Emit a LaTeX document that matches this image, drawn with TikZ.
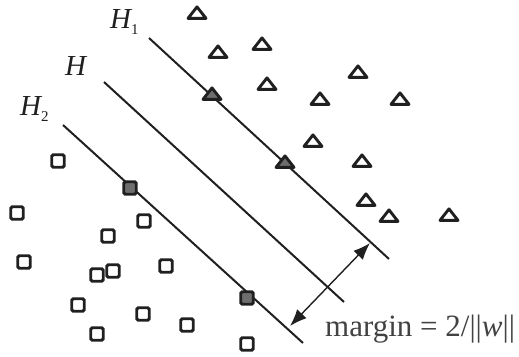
\documentclass[tikz,border=0pt]{standalone}
\usepackage{fontspec}
\setmainfont{Liberation Serif}
\usetikzlibrary{shapes.geometric,arrows.meta}
\definecolor{ink}{HTML}{202020}
\definecolor{mark}{HTML}{6E6E6E}
\begin{document}
\begin{tikzpicture}[x=1pt,y=-1pt,
  tri/.style={draw=ink, line width=2.9pt, fill=white, isosceles triangle, shape border rotate=90,
    isosceles triangle stretches, minimum width=18pt, minimum height=11.5pt, inner sep=0pt, line join=round},
  trisv/.style={tri, fill=mark},
  sq/.style={draw=ink, line width=2.9pt, fill=white, rectangle, minimum size=12.5pt, inner sep=0pt, rounded corners=1.5pt},
  sqsv/.style={sq, fill=mark},
  hyp/.style={draw=ink, line width=2pt},
  lab/.style={font=\fontsize{29}{29}\selectfont\itshape, text=ink, inner sep=0pt, anchor=base west},
  marr/.style={draw=ink, line width=1.4pt, {Latex[length=17pt,width=13pt]}-{Latex[length=17pt,width=13pt]}}
]
\useasboundingbox (0,0) rectangle (519,356);
% hyperplanes
\coordinate (h1a) at (149,38);  \coordinate (h1b) at (389,259);
\coordinate (ha)  at (104,82);  \coordinate (hb)  at (344,302);
\coordinate (h2a) at (63,125);  \coordinate (h2b) at (303,343);
\draw[hyp] (h1a) -- (h1b);
\draw[hyp] (ha) -- (hb);
\draw[hyp] (h2a) -- (h2b);
% labels
\node[lab] (lH1) at (110,28) {H\raisebox{-6pt}{\fontsize{15}{15}\selectfont\upshape 1}};
\node[lab] (lH)  at (65,75) {H};
\node[lab] (lH2) at (20,115) {H\raisebox{-6pt}{\fontsize{15}{15}\selectfont\upshape 2}};
% triangles
\node[tri] (t1) at (197,14) {};
\node[tri] (t2) at (218,53) {};
\node[tri] (t3) at (262,45) {};
\node[trisv] (t4) at (212,95) {};
\node[tri] (t5) at (267,85) {};
\node[tri] (t6) at (320,100) {};
\node[tri] (t7) at (358,73) {};
\node[tri] (t8) at (400,100) {};
\node[tri] (t9) at (313,142) {};
\node[trisv] (t10) at (285,163) {};
\node[tri] (t11) at (362,162) {};
\node[tri] (t12) at (366,201) {};
\node[tri] (t13) at (389,217) {};
\node[tri] (t14) at (449,216) {};
% squares
\node[sq] (s1) at (58,161) {};
\node[sqsv] (s2) at (130,188) {};
\node[sq] (s3) at (17,213) {};
\node[sq] (s4) at (144,221) {};
\node[sq] (s5) at (108,236) {};
\node[sq] (s6) at (24,262) {};
\node[sq] (s7) at (97,275) {};
\node[sq] (s8) at (113,271) {};
\node[sq] (s9) at (166,266) {};
\node[sqsv] (s10) at (247,298) {};
\node[sq] (s11) at (78,305) {};
\node[sq] (s12) at (143,314) {};
\node[sq] (s13) at (187,325) {};
\node[sq] (s14) at (97,334) {};
\node[sq] (s15) at (247,344) {};
% margin arrow
\coordinate (m1) at (290,326);
\coordinate (m2) at (370,243);
\draw[marr] (m1) -- (m2);
\node[font=\fontsize{31}{31}\selectfont, text=ink!85, inner sep=0pt, anchor=base west] (mt) at (325,336) {margin = 2/||\textit{w}||};
\end{tikzpicture}
\end{document}
